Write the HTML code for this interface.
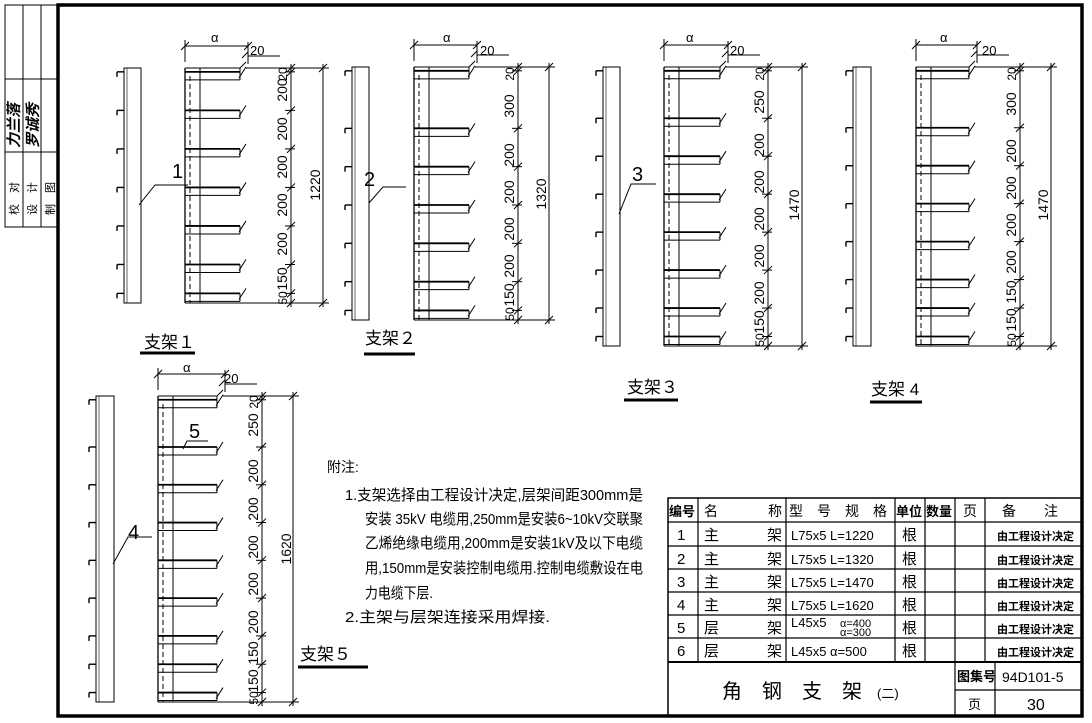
<!DOCTYPE html>
<html><head><meta charset="utf-8">
<style>
html,body{margin:0;padding:0;background:#fff;}
svg{display:block;}
text{font-family:"Liberation Sans","Noto Sans CJK SC",sans-serif;fill:#000;}
</style></head>
<body>
<svg id="s" width="1092" height="723" viewBox="0 0 1092 723" xmlns="http://www.w3.org/2000/svg">
<rect x="0" y="0" width="1092" height="723" fill="#fff"/>
<rect x="58" y="5" width="1024" height="711" fill="none" stroke="#000" stroke-width="3.5"/>
<g stroke="#000" stroke-width="1" fill="none">
<rect x="5" y="5" width="53" height="222"/>
<line x1="23" y1="5" x2="23" y2="227"/><line x1="41" y1="5" x2="41" y2="227"/>
<line x1="5" y1="79" x2="58" y2="79"/><line x1="5" y1="152" x2="58" y2="152"/>
</g>
<g font-size="11">
<text transform="translate(18,215) rotate(-90)">校　对</text>
<text transform="translate(36,215) rotate(-90)">设　计</text>
<text transform="translate(54,215) rotate(-90)">制　图</text>
<text transform="translate(19,148) rotate(-90)" font-size="15" font-style="italic" font-weight="bold">力兰落</text>
<text transform="translate(38,148) rotate(-90)" font-size="15" font-style="italic" font-weight="bold">罗诚秀</text>
</g>
<g id="draw" stroke="#000" fill="none" stroke-width="1"></g>

<g font-size="20">
<text x="172" y="178">1</text>
<text x="364" y="186">2</text>
<text x="632" y="181">3</text>
<text x="128" y="539">4</text>
<text x="189" y="438">5</text>
<text x="144" y="348" font-size="17">支架１</text>
<text x="365" y="344" font-size="17">支架２</text>
<text x="627" y="393" font-size="17">支架３</text>
<text x="871" y="395" font-size="17">支架 4</text>
<text x="300" y="660" font-size="17">支架５</text>
</g>
<g stroke="#000" stroke-width="3">
<line x1="140" y1="353" x2="195" y2="353"/>
<line x1="364" y1="354" x2="415" y2="354"/>
<line x1="624" y1="400" x2="678" y2="400"/>
<line x1="870" y1="402" x2="922" y2="402"/>
<line x1="298" y1="667" x2="368" y2="667"/>
</g>
<g stroke="#000" stroke-width="1">
<polyline points="139,205 155,185 188,185" fill="none"/>
<polyline points="369,203 383,187 406,187" fill="none"/>
<polyline points="619,214 631,184 656,184" fill="none"/>
<polyline points="113,564 128,537 152,537" fill="none"/>
<polyline points="183,449 187,441 208,441" fill="none"/>
</g>
<g font-size="13">
<text x="211" y="42">α</text><text x="250" y="55">20</text>
<text x="443" y="42">α</text><text x="480" y="55">20</text>
<text x="686" y="42">α</text><text x="730" y="55">20</text>
<text x="940" y="42">α</text><text x="982" y="55">20</text>
<text x="183" y="372">α</text><text x="224" y="383">20</text>
</g>
<g font-size="14" text-anchor="middle">
<text transform="translate(287,74) rotate(-90)" font-size="12">20</text>
<text transform="translate(287,90) rotate(-90)">200</text>
<text transform="translate(287,129) rotate(-90)">200</text>
<text transform="translate(287,167) rotate(-90)">200</text>
<text transform="translate(287,205) rotate(-90)">200</text>
<text transform="translate(287,244) rotate(-90)">200</text>
<text transform="translate(287,279) rotate(-90)">150</text>
<text transform="translate(287,298) rotate(-90)" font-size="12">50</text>
<text transform="translate(320,185) rotate(-90)">1220</text>
<text transform="translate(514,74) rotate(-90)" font-size="12">20</text>
<text transform="translate(514,106) rotate(-90)">300</text>
<text transform="translate(514,155) rotate(-90)">200</text>
<text transform="translate(514,192) rotate(-90)">200</text>
<text transform="translate(514,229) rotate(-90)">200</text>
<text transform="translate(514,266) rotate(-90)">200</text>
<text transform="translate(514,295) rotate(-90)">150</text>
<text transform="translate(514,314) rotate(-90)" font-size="12">50</text>
<text transform="translate(546,194) rotate(-90)">1320</text>
<text transform="translate(764,74) rotate(-90)" font-size="12">20</text>
<text transform="translate(764,102) rotate(-90)">250</text>
<text transform="translate(764,145) rotate(-90)">200</text>
<text transform="translate(764,182) rotate(-90)">200</text>
<text transform="translate(764,219) rotate(-90)">200</text>
<text transform="translate(764,256) rotate(-90)">200</text>
<text transform="translate(764,293) rotate(-90)">200</text>
<text transform="translate(764,322) rotate(-90)">150</text>
<text transform="translate(764,340) rotate(-90)" font-size="12">50</text>
<text transform="translate(799,205) rotate(-90)">1470</text>
<text transform="translate(1016,74) rotate(-90)" font-size="12">20</text>
<text transform="translate(1016,104) rotate(-90)">300</text>
<text transform="translate(1016,151) rotate(-90)">200</text>
<text transform="translate(1016,188) rotate(-90)">200</text>
<text transform="translate(1016,225) rotate(-90)">200</text>
<text transform="translate(1016,262) rotate(-90)">200</text>
<text transform="translate(1016,292) rotate(-90)">150</text>
<text transform="translate(1016,320) rotate(-90)">150</text>
<text transform="translate(1016,340) rotate(-90)" font-size="12">50</text>
<text transform="translate(1048,205) rotate(-90)">1470</text>
<text transform="translate(258,402) rotate(-90)" font-size="12">20</text>
<text transform="translate(258,425) rotate(-90)">250</text>
<text transform="translate(258,471) rotate(-90)">200</text>
<text transform="translate(258,509) rotate(-90)">200</text>
<text transform="translate(258,547) rotate(-90)">200</text>
<text transform="translate(258,584) rotate(-90)">200</text>
<text transform="translate(258,622) rotate(-90)">200</text>
<text transform="translate(258,653) rotate(-90)">150</text>
<text transform="translate(258,681) rotate(-90)">150</text>
<text transform="translate(258,698) rotate(-90)" font-size="12">50</text>
<text transform="translate(291,549) rotate(-90)">1620</text>
</g>

<g font-size="15">
<text x="327" y="472" font-size="14">附注:</text>
<text x="345" y="500" textLength="298" lengthAdjust="spacingAndGlyphs">1.支架选择由工程设计决定,层架间距300mm是</text>
<text x="365" y="524" textLength="278" lengthAdjust="spacingAndGlyphs">安装 35kV 电缆用,250mm是安装6~10kV交联聚</text>
<text x="365" y="548" textLength="278" lengthAdjust="spacingAndGlyphs">乙烯绝缘电缆用,200mm是安装1kV及以下电缆</text>
<text x="365" y="573" textLength="278" lengthAdjust="spacingAndGlyphs">用,150mm是安装控制电缆用.控制电缆敷设在电</text>
<text x="365" y="598" textLength="68" lengthAdjust="spacingAndGlyphs">力电缆下层.</text>
<text x="345" y="622" textLength="205" lengthAdjust="spacingAndGlyphs">2.主架与层架连接采用焊接.</text>
</g>

<g stroke="#000" stroke-width="1.2" fill="none">
<rect x="668" y="498" width="414" height="218" stroke-width="1.5"/>
<line x1="668" y1="522" x2="1082" y2="522"/>
<line x1="668" y1="546" x2="1082" y2="546"/>
<line x1="668" y1="569" x2="1082" y2="569"/>
<line x1="668" y1="592" x2="1082" y2="592"/>
<line x1="668" y1="615" x2="1082" y2="615"/>
<line x1="668" y1="638" x2="1082" y2="638"/>
<line x1="668" y1="662" x2="1082" y2="662" stroke-width="2"/>
<line x1="698" y1="498" x2="698" y2="662"/>
<line x1="786" y1="498" x2="786" y2="662"/>
<line x1="895" y1="498" x2="895" y2="662"/>
<line x1="925" y1="498" x2="925" y2="662"/>
<line x1="955" y1="498" x2="955" y2="716"/>
<line x1="985" y1="498" x2="985" y2="662"/>
<line x1="995" y1="662" x2="995" y2="716"/>
<line x1="955" y1="690" x2="1082" y2="690"/>
</g>
<g font-size="14">
<text x="669" y="516" font-size="13" font-weight="bold">编号</text>
<text x="704" y="516">名</text><text x="768" y="516">称</text>
<text x="789" y="516">型　号　规　格</text>
<text x="896" y="516" font-size="13" font-weight="bold">单位</text>
<text x="926" y="516" font-size="13" font-weight="bold">数量</text>
<text x="963" y="516">页</text>
<text x="1002" y="516">备　　注</text>
</g>
<g font-size="15">
<text x="677" y="540">1</text><text x="677" y="564">2</text><text x="677" y="587">3</text><text x="677" y="610">4</text><text x="677" y="633">5</text><text x="677" y="656">6</text>
<text x="704" y="540">主</text><text x="704" y="564">主</text><text x="704" y="587">主</text><text x="704" y="610">主</text><text x="704" y="633">层</text><text x="704" y="656">层</text>
<text x="767" y="540">架</text><text x="767" y="564">架</text><text x="767" y="587">架</text><text x="767" y="610">架</text><text x="767" y="633">架</text><text x="767" y="656">架</text>
<text x="902" y="540">根</text><text x="902" y="564">根</text><text x="902" y="587">根</text><text x="902" y="610">根</text><text x="902" y="633">根</text><text x="902" y="656">根</text>
</g>
<g font-size="13">
<text x="791" y="540">L75x5  L=1220</text>
<text x="791" y="564">L75x5  L=1320</text>
<text x="791" y="587">L75x5  L=1470</text>
<text x="791" y="610">L75x5  L=1620</text>
<text x="791" y="627">L45x5</text><text x="840" y="627" font-size="11">α=400</text><text x="840" y="636" font-size="11">α=300</text>
<text x="791" y="656">L45x5  α=500</text>
</g>
<g font-size="11" font-weight="bold">
<text x="997" y="540">由工程设计决定</text><text x="997" y="564">由工程设计决定</text><text x="997" y="587">由工程设计决定</text>
<text x="997" y="610">由工程设计决定</text><text x="997" y="633">由工程设计决定</text><text x="997" y="656">由工程设计决定</text>
</g>
<text x="722" y="698" font-size="20">角　钢　支　架</text><text x="877" y="698" font-size="13">(二)</text>
<text x="957" y="681" font-size="13" font-weight="bold">图集号</text>
<text x="1002" y="682" font-size="14" font-family="Liberation Serif">94D101-5</text>
<text x="968" y="709" font-size="13">页</text>
<text x="1027" y="710" font-size="16">30</text>
</svg>
<script>
(function(){
var g=document.getElementById('draw'),NS='http://www.w3.org/2000/svg';
function L(x1,y1,x2,y2,w,d){var e=document.createElementNS(NS,'line');e.setAttribute('x1',x1);e.setAttribute('y1',y1);e.setAttribute('x2',x2);e.setAttribute('y2',y2);if(w)e.setAttribute('stroke-width',w);if(d)e.setAttribute('stroke-dasharray',d);g.appendChild(e);}
function R(x,y,w,h){var e=document.createElementNS(NS,'rect');e.setAttribute('x',x);e.setAttribute('y',y);e.setAttribute('width',w);e.setAttribute('height',h);g.appendChild(e);}
function T(x,y){L(x-4,y+4,x+4,y-4);}
function B(c1,c2,top,bot,fx,ar,dx,tx,dims){
 var tot=dims.reduce(function(a,b){return a+b;},0),k=(bot-top)/tot;
 R(c1,top,c2-c1,bot-top);L(c1+3,top,c1+3,bot,0.6);
 L(fx,top,fx,bot,1.3);L(fx+15,top,fx+15,bot);L(fx+5,top+8,fx+5,bot,1,'5,3');
 L(fx,top,ar,top);L(fx,bot,tx+6,bot);
 L(ar+6,top,tx+6,top);
 L(fx,top-6,fx,top-28);L(ar+8,top-4,ar+8,top-26);L(fx,top-22,ar+8,top-22);T(fx,top-22);T(ar+8,top-22);
 L(ar+2,top-10,ar+8,top-16);L(ar+8,top-12,ar+40,top-12);
 var y=top,ys=[];for(var i=0;i<dims.length;i++){ys.push(y);y+=dims[i]*k;}ys.push(bot);
 L(ar,top,ar,ys[1]);L(ar,top,ar+6,top-6);
 for(i=1;i<ys.length-1;i++){var a=ys[i];L(fx,a,ar,a,1.8);L(fx,a+8,ar,a+8);L(ar,a,ar,a+8);L(ar-1,a+6,ar+6,a-5);
  L(c1-7,a,c1,a,1.4);L(c1-7,a,c1-7,a+5,1.4);}
 L(dx,top-4,dx,bot+4);for(i=0;i<ys.length;i++){T(dx,ys[i]);L(dx-6,ys[i],dx+4,ys[i]);}
 L(tx,top-4,tx,bot+4);T(tx,top);T(tx,bot);
}
B(124,141,68,303,185,240,291,323,[20,200,200,200,200,200,150,50]);
B(352,369,67,320,414,469,518,549,[20,300,200,200,200,200,150,50]);
B(603,620,67,346,664,720,768,802,[20,250,200,200,200,200,200,150,50]);
B(853,871,67,346,916,969,1020,1051,[20,300,200,200,200,200,150,150,50]);
B(96,114,396,702,158,217,262,293,[20,250,200,200,200,200,200,150,150,50]);
})();
</script>
</body></html>
